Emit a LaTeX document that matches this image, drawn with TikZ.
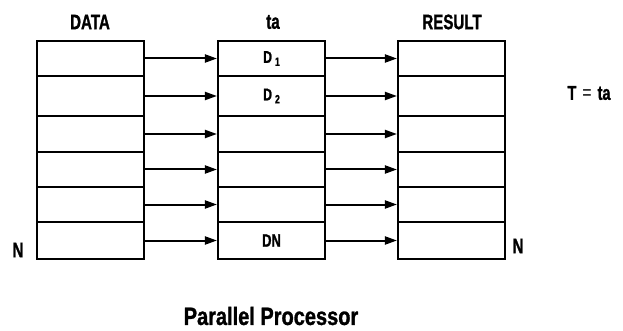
\documentclass[tikz,border=0pt]{standalone}
\usepackage{fontspec}
\setmainfont{Liberation Sans}[UprightFont=* Bold,BoldFont=* Bold,FakeStretch=0.72,FakeBold=1.2]
\newfontfamily\wideface{Liberation Sans}[UprightFont=* Bold,BoldFont=* Bold,FakeStretch=0.8,FakeBold=1.2]
\newfontfamily\thinface{Liberation Sans}[FakeStretch=0.8]
\usetikzlibrary{arrows.meta}
\begin{document}
\begin{tikzpicture}[x=1pt,y=-1pt,
  cell/.style={draw,line width=2.1pt,rectangle,inner sep=0pt,minimum width=107pt},
  conn/.style={line width=2pt,-{Triangle[length=12pt,width=8pt]}},
  lbl/.style={inner sep=0pt,font=\fontsize{21}{21}\selectfont},
  cellt/.style={font=\fontsize{17}{17}\selectfont}]
\useasboundingbox (0,0) rectangle (623,331);
\def\rows{41/76/1,76/116/2,116/152/3,152/187/4,187/222/5,222/259/6}
\foreach \a/\b/\i in \rows {
  \node[cell,minimum height={\b-\a}] (d\i) at (90.5,{(\a+\b)/2}) {};
  \node[cell,minimum height={\b-\a}] (t\i) at (271.5,{(\a+\b)/2}) {};
  \node[cell,minimum height={\b-\a}] (r\i) at (451.5,{(\a+\b)/2}) {};
}
\foreach \i in {1,...,6} {
  \draw[conn] (d\i.east) -- (t\i.west);
  \draw[conn] (t\i.east) -- (r\i.west);
}
\node[cellt] (l1) at (t1.center) {D\hspace{3pt}\raisebox{-3pt}{\fontsize{12}{12}\selectfont 1}};
\node[cellt] (l2) at (t2.center) {D\hspace{3pt}\raisebox{-3pt}{\fontsize{12}{12}\selectfont 2}};
\node[cellt,font=\fontsize{18}{18}\selectfont] (l6) at (t6.center) {DN};
\node[lbl] (hd) at (90,22) {DATA};
\node[lbl] (ht) at (273,22) {ta};
\node[lbl] (hr) at (452,22) {RESULT};
\node[lbl,font=\fontsize{20}{20}\selectfont] (tt) at (589,93) {T\hspace{6pt}{\thinface =}\hspace{6pt}ta};
\node[lbl] (nl) at (18,250) {N};
\node[lbl] (nr) at (518,246) {N};
\node[lbl,font=\fontsize{25}{25}\selectfont\wideface] (cap) at (271,316) {Parallel Processor};
\end{tikzpicture}
\end{document}
